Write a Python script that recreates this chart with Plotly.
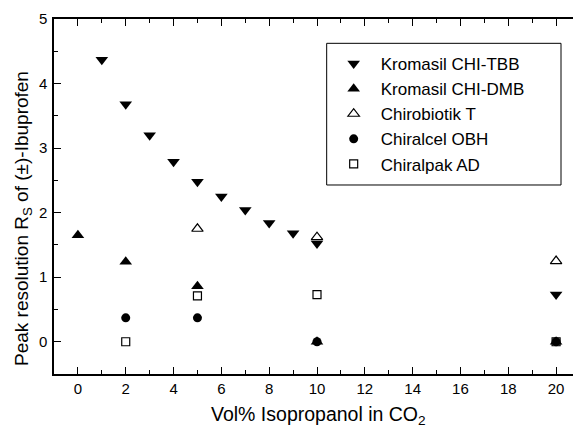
import plotly.graph_objects as go

# Data
tbb_x = [1, 2, 3, 4, 5, 6, 7, 8, 9, 10, 20]
tbb_y = [4.37, 3.68, 3.20, 2.79, 2.48, 2.25, 2.04, 1.84, 1.68, 1.52, 0.73]

dmb_x = [0, 2, 5, 10, 20]
dmb_y = [1.65, 1.24, 0.86, 0.0, 0.0]

chirobiotik_x = [5, 10, 20]
chirobiotik_y = [1.75, 1.62, 1.25]

obh_x = [2, 5, 10, 20]
obh_y = [0.37, 0.37, 0.0, 0.0]

ad_x = [2, 5, 10, 20]
ad_y = [0.0, 0.71, 0.73, 0.0]

series_names = ["Kromasil CHI-TBB", "Kromasil CHI-DMB", "Chirobiotik T",
                "Chiralcel OBH", "Chiralpak AD"]

x_tick_vals = [0, 2, 4, 6, 8, 10, 12, 14, 16, 18, 20]
y_tick_vals = [0, 1, 2, 3, 4, 5]

x_title = "Vol% Isopropanol in CO<sub>2</sub>"
y_title = "Peak resolution R<sub>S</sub> of (±)-Ibuprofen"

FONT = "Liberation Sans, Arial, Helvetica, sans-serif"

fig = go.Figure()
fig.add_trace(go.Scatter(x=tbb_x, y=tbb_y, mode="markers", name=series_names[0],
                         marker=dict(symbol="triangle-down", size=11, color="black")))
fig.add_trace(go.Scatter(x=dmb_x, y=dmb_y, mode="markers", name=series_names[1],
                         marker=dict(symbol="triangle-up", size=11, color="black")))
fig.add_trace(go.Scatter(x=chirobiotik_x, y=chirobiotik_y, mode="markers", name=series_names[2],
                         marker=dict(symbol="triangle-up-open", size=10, color="black",
                                     line=dict(width=1.2, color="black"))))
fig.add_trace(go.Scatter(x=obh_x, y=obh_y, mode="markers", name=series_names[3],
                         marker=dict(symbol="circle", size=9, color="black")))
fig.add_trace(go.Scatter(x=ad_x, y=ad_y, mode="markers", name=series_names[4],
                         marker=dict(symbol="square-open", size=8, color="black",
                                     line=dict(width=1.2, color="black"))))

axis_common = dict(
    showline=True, linecolor="black", linewidth=1.5, mirror="allticks",
    ticks="inside", ticklen=7, tickwidth=1.2, tickcolor="black",
    showgrid=False, zeroline=False, automargin=False,
    tickfont=dict(family=FONT, size=15, color="black"),
)

fig.update_xaxes(
    range=[-1, 21], tickvals=x_tick_vals,
    minor=dict(dtick=1, ticks="inside", ticklen=4, tickwidth=1.2, tickcolor="black", showgrid=False),
    **axis_common,
)
fig.update_yaxes(
    range=[-0.5, 5], tickvals=y_tick_vals, ticklabelstandoff=2,
    minor=dict(dtick=0.5, ticks="inside", ticklen=4, tickwidth=1.2, tickcolor="black", showgrid=False),
    **axis_common,
)

# axis titles as annotations so they can sit exactly where the reference has them
fig.add_annotation(text=x_title, xref="paper", yref="paper", x=0.503, y=-0.076,
                   xanchor="center", yanchor="top", showarrow=False,
                   font=dict(family=FONT, size=19.5, color="black"))
fig.add_annotation(text=y_title, xref="paper", yref="paper", x=-0.0599, y=0.438,
                   xanchor="center", yanchor="middle", textangle=-90, showarrow=False,
                   font=dict(family=FONT, size=19, color="black"))

# legend frame (paper coordinates)
fig.add_shape(type="rect", xref="paper", yref="paper",
              x0=0.5184, x1=0.9639, y0=0.5324, y1=0.9315,
              line=dict(color="black", width=1), fillcolor="white", layer="below")

# the page body adds an 8px offset, so the figure is sized to fit the window
fig.update_layout(
    width=573, height=420,
    margin=dict(l=46, r=1, t=11, b=54),
    paper_bgcolor="white", plot_bgcolor="white",
    font=dict(family=FONT, color="black"),
    legend=dict(
        x=0.5184, y=0.924, xanchor="left", yanchor="top",
        borderwidth=0, bgcolor="rgba(0,0,0,0)",
        font=dict(family=FONT, size=17, color="black"),
        itemwidth=44, tracegroupgap=0,
    ),
)

fig.write_html("out.html")
